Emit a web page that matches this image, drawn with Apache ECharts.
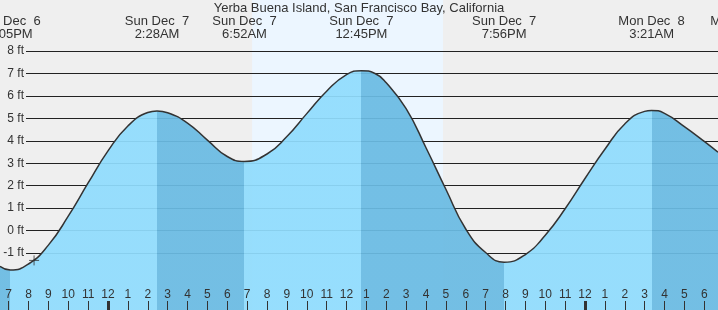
<!DOCTYPE html>
<html>
<head>
<meta charset="utf-8">
<script src="https://cdn.jsdelivr.net/npm/echarts@6/dist/echarts.min.js"></script>
<style>html,body{margin:0;padding:0;background:#efefef;}#c{width:718px;height:310px;}</style>
</head>
<body>
<div id="c"></div>
<script>
// ---- data (hours relative to Sun Dec 7 00:00) ----
const tideTimes = [-5.434, -4.917, -4, -3, -2, -1, 0, 1, 2, 2.467, 3, 4, 5, 6, 6.867, 8, 9, 10, 11, 12, 12.75, 13.434, 14, 15, 16, 17, 18, 19, 19.933, 21, 22, 23, 24, 25, 26, 27, 27.35, 28, 29, 30, 30.692];
const tideHeights = [-1.59, -1.76, -1.49, -0.65, 0.64, 2.12, 3.55, 4.66, 5.26, 5.33, 5.25, 4.79, 4.03, 3.30, 3.08, 3.41, 4.19, 5.21, 6.21, 6.95, 7.12, 7.00, 6.58, 5.43, 3.69, 1.84, 0.07, -0.98, -1.41, -1.07, -0.21, 0.97, 2.32, 3.62, 4.75, 5.31, 5.35, 5.22, 4.63, 3.97, 3.49];
const eventTimes = [-4.917, 2.467, 6.867, 12.750, 19.933, 27.350, 31.970];
const eventTypes = ['L', 'H', 'L', 'H', 'L', 'H', 'L'];
const eventDays = ['Sat Dec  6', 'Sun Dec  7', 'Sun Dec  7', 'Sun Dec  7', 'Sun Dec  7', 'Mon Dec  8', 'Mon Dec  8'];
const eventClock = ['7:05PM', '2:28AM', '6:52AM', '12:45PM', '7:56PM', '3:21AM', '7:58AM'];
const daylight = [7.25, 16.855];
const midnights = [0, 24];
const nowMarker = [-3.72, -1.33];
const yTickMin = -1, yTickMax = 8;
const titleText = 'Yerba Buena Island, San Francisco Bay, California';

// ---- layout / style ----
const W = 718, H = 310;
const xMin = -6, xMax = 32, pxPerHour = 19.875, xZero = 108;
const B_TOP = 51, B_H = 202;
const pxPerFt = B_H / (yTickMax - yTickMin);
const yMaxA = yTickMax + B_TOP / pxPerFt;
const yMinA = yTickMin - (H - B_TOP - B_H) / pxPerFt;
const gLeft = xZero + xMin * pxPerHour;
const gRight = W - (xZero + xMax * pxPerHour);
const FONT = 'Liberation Sans';
const FLOOD = 'rgb(144,220,253)', EBB = 'rgb(106,187,227)';

const pieces = [];
pieces.push({ lt: eventTimes[0], color: eventTypes[0] === 'L' ? EBB : FLOOD });
for (let i = 0; i < eventTimes.length - 1; i++) {
  pieces.push({ gte: eventTimes[i], lt: eventTimes[i + 1], color: eventTypes[i] === 'H' ? EBB : FLOOD });
}
pieces.push({ gte: eventTimes[eventTimes.length - 1], color: eventTypes[eventTimes.length - 1] === 'H' ? EBB : FLOOD });

const tide = tideTimes.map((t, i) => [t, tideHeights[i]]);
function hourLabel(v) { let h = ((Math.round(v) % 12) + 12) % 12; return h === 0 ? '12' : String(h); }
function eventLabel(v) {
  for (let i = 0; i < eventTimes.length; i++) if (Math.abs(eventTimes[i] - v) < 1e-6) return eventDays[i] + '\n' + eventClock[i];
  return '';
}

const chart = echarts.init(document.getElementById('c'), null, { renderer: 'canvas' });
chart.setOption({
  backgroundColor: '#efefef',
  animation: false,
  title: {
    text: titleText, left: 'center', top: -3,
    textStyle: { fontFamily: FONT, fontSize: 13, fontWeight: 'normal', color: '#333' }
  },
  grid: [
    { left: gLeft, right: gRight, top: 0, bottom: 0, outerBoundsMode: 'none', containLabel: false },
    { left: 26, right: 0, top: B_TOP, height: B_H, outerBoundsMode: 'none', containLabel: false }
  ],
  visualMap: { type: 'piecewise', show: false, seriesIndex: 0, dimension: 0, pieces: pieces },
  xAxis: [
    { type: 'value', gridIndex: 0, min: xMin, max: xMax, interval: 1, position: 'bottom', z: 3,
      axisLine: { show: false, onZero: false }, splitLine: { show: false },
      axisTick: { show: true, inside: true, length: 9, lineStyle: { color: '#333', width: 1 } },
      axisLabel: { inside: true, margin: 9, color: '#333', fontFamily: FONT, fontSize: 12, formatter: hourLabel, hideOverlap: false } },
    { type: 'value', gridIndex: 0, min: xMin, max: xMax, position: 'bottom', z: 4,
      axisLine: { show: false, onZero: false }, splitLine: { show: false }, axisLabel: { show: false },
      axisTick: { show: true, inside: true, length: 9, customValues: midnights, lineStyle: { color: '#333', width: 3 } } },
    { type: 'value', gridIndex: 0, min: xMin, max: xMax, position: 'top', z: 5,
      axisLine: { show: false, onZero: false }, splitLine: { show: false }, axisTick: { show: false },
      axisLabel: { inside: true, margin: 14.5, customValues: eventTimes, formatter: eventLabel, color: '#333',
        fontFamily: FONT, fontSize: 13, lineHeight: 13, align: 'center', hideOverlap: false } },
    { type: 'value', gridIndex: 1, min: xMin, max: xMax, show: false, axisLine: { onZero: false } }
  ],
  yAxis: [
    { type: 'value', gridIndex: 0, min: yMinA, max: yMaxA, show: false },
    { type: 'value', gridIndex: 1, min: yTickMin, max: yTickMax, interval: 1, z: 1.5,
      axisLine: { show: false }, axisTick: { show: false },
      axisLabel: { margin: 2, color: '#333', fontFamily: FONT, fontSize: 12, formatter: '{value} ft' },
      splitLine: { show: true, lineStyle: { color: '#222', width: 1 } } }
  ],
  series: [
    { type: 'line', xAxisIndex: 0, yAxisIndex: 0, data: tide, smooth: 0.5, showSymbol: false, z: 2,
      lineStyle: { color: '#333', width: 1.5 },
      areaStyle: { origin: 'start', opacity: 0.93 },
      markArea: { silent: true, z: 1, itemStyle: { color: '#ecf6ff' },
        data: [[{ xAxis: daylight[0] }, { xAxis: daylight[1] }]] } },
    { type: 'scatter', xAxisIndex: 0, yAxisIndex: 0, z: 6, data: [nowMarker],
      symbol: 'path://M0,5L10,5M5,0L5,10', symbolSize: 10,
      itemStyle: { color: 'none', borderColor: '#333', borderWidth: 1 } }
  ]
});
</script>
</body>
</html>
